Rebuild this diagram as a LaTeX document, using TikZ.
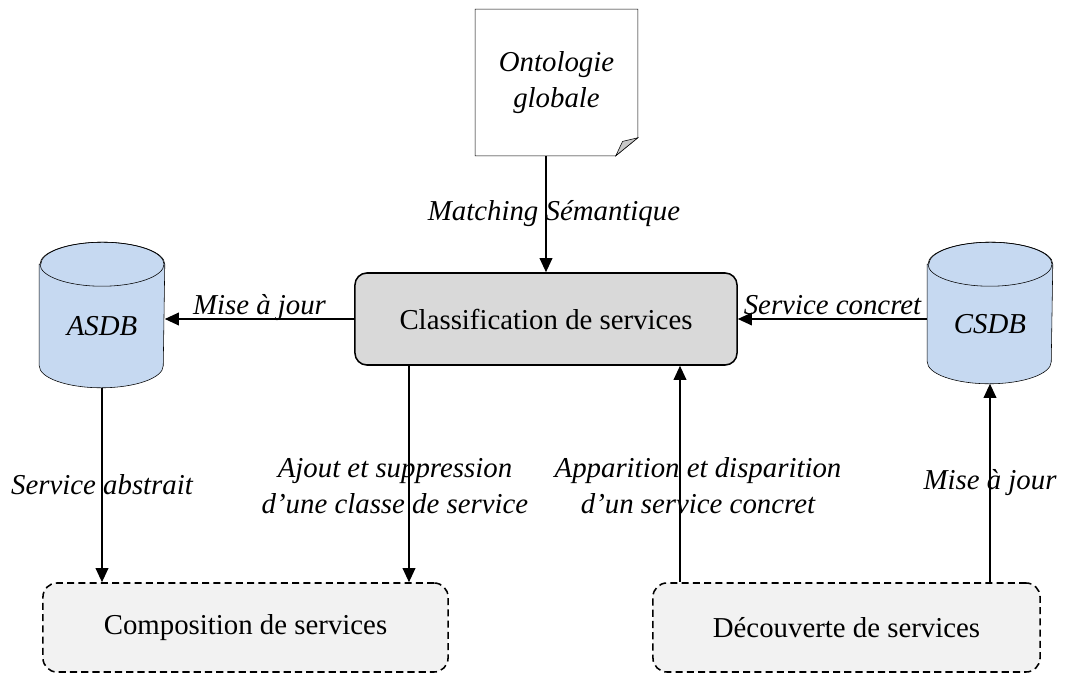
\documentclass[tikz,border=0pt]{standalone}
\usepackage{fontspec}
\setmainfont{Liberation Serif}
\usetikzlibrary{positioning,calc,arrows.meta,backgrounds}
\definecolor{boxgray}{HTML}{D9D9D9}
\definecolor{boxlight}{HTML}{F2F2F2}
\definecolor{dbblue}{HTML}{C6D9F1}
\definecolor{foldgray}{HTML}{C8C8C8}

\begin{document}
\begin{tikzpicture}[x=0.025cm,y=-0.025cm,
    line width=1.1pt,
    every node/.style={font=\fontsize{20.5}{25.5}\selectfont},
    clsbox/.style={rounded corners=0.3cm, fill=boxgray, draw,
                   minimum width=9.55cm, minimum height=2.3cm},
    procbox/.style={rounded corners=0.35cm, fill=boxlight, draw,
                    dash pattern=on 5pt off 3pt, minimum height=2.225cm},
    dbbody/.style={minimum width=3.1cm, inner sep=0pt,
                   font=\fontsize{20.5}{25.5}\selectfont\itshape},
    docbox/.style={minimum width=4.025cm, minimum height=3.625cm,
                   align=center, font=\fontsize{20.5}{25.5}\selectfont\itshape},
    lbl/.style={font=\fontsize{20.5}{25.5}\selectfont\itshape,
                align=center, inner sep=0pt},
    arr/.style={-{Triangle[length=10pt,width=9pt]}},
  ]
  \useasboundingbox (0,0) rectangle (1068,675);

  % main blocks
  \node[clsbox] (cls) at (546,319) {Classification de services};
  \node[docbox] (onto) at (556.5,82.5) {Ontologie\\globale};
  \node[dbbody, minimum height=3.05cm] (asdb) at (102,326) {ASDB};
  \node[dbbody, minimum height=2.95cm] (csdb) at (990,324) {CSDB};
  \node[procbox, minimum width=10.125cm] (comp) at (245.5,627.5) {Composition de services};
  \node[procbox, minimum width=9.675cm] (decv) at (846.5,627.5) {Découverte de services};

  % document and databases behind their texts
  \begin{scope}[on background layer]
    \draw[fill=white] (onto.north west) -- (onto.north east)
      -- ([yshift=0.45cm]onto.south east) -- ([xshift=-0.55cm]onto.south east)
      -- (onto.south west) -- cycle;
    \draw[fill=foldgray] ([xshift=-0.55cm]onto.south east)
      -- ([xshift=-0.38cm,yshift=0.36cm]onto.south east)
      -- ([yshift=0.45cm]onto.south east) -- cycle;
    \foreach \db in {asdb,csdb}{
      \draw[fill=dbblue] (\db.north west) -- ([yshift=0.55cm]\db.south west)
        arc[start angle=180, end angle=360, x radius=1.55cm, y radius=0.55cm]
        -- (\db.north east)
        arc[start angle=0, end angle=180, x radius=1.55cm, y radius=0.55cm] -- cycle;
      \draw (\db.north) ellipse[x radius=1.55cm, y radius=0.55cm];
    }
  \end{scope}

  \coordinate (x1) at (409,0);
  \coordinate (x2) at (680,0);

  % connectors
  \draw[arr] (cls.north |- onto.south) -- (cls.north)
    node[lbl, midway, xshift=0.2cm] {Matching Sémantique};
  \draw[arr] (cls.west) -- (cls.west -| asdb.east)
    node[lbl, midway, anchor=base, yshift=3pt] {Mise à jour};
  \draw[arr] (cls.east -| csdb.west) -- (cls.east)
    node[lbl, midway, anchor=base, yshift=3pt] {Service concret};
  \draw[arr] (asdb.south) -- (asdb.south |- comp.north)
    node[lbl, midway] {Service abstrait};
  \draw[arr] (x1 |- cls.south) -- (x1 |- comp.north)
    node[lbl, midway, xshift=-0.35cm, yshift=-0.3cm] {Ajout et suppression\\d’une classe de service};
  \draw[arr] (x2 |- decv.north) -- (x2 |- cls.south)
    node[lbl, midway, xshift=0.45cm, yshift=-0.3cm] {Apparition et disparition\\d’un service concret};
  \draw[arr] (csdb.south |- decv.north) -- (csdb.south)
    node[lbl, midway] {Mise à jour};
\end{tikzpicture}
\end{document}
